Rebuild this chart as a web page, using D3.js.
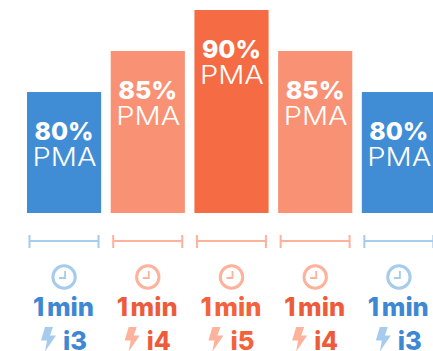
<!DOCTYPE html>
<html><head><meta charset="utf-8">
<script src="https://cdn.jsdelivr.net/npm/d3@7"></script>
<style>html,body{margin:0;padding:0;background:#fff;overflow:hidden}svg{display:block}text{font-family:Inter,"Open Sans",sans-serif}</style>
</head><body><svg id="c" width="433" height="351"></svg>
<script>
const intervals=["a","b","c","d","e"];
const pma=[80,85,90,85,80];
const durations=["1 min","1 min","1 min","1 min","1 min"];
const zones=["i3","i4","i5","i4","i3"];
const barColors={i3:"#408dd6",i4:"#f99175",i5:"#f56b43"};
const textColors={i3:"#3d87d3",i4:"#ee5b3b",i5:"#f4623c"};
const lightColors={i3:"#a5cbed",i4:"#fdb29c",i5:"#fdb29c"};
const svg=d3.select("#c");
const x=d3.scaleBand().domain(intervals).range([27,436]).paddingInner(0.114);
const y=d3.scaleLinear().domain([65.25,90]).range([213,10]);
const g=svg.selectAll("g.i").data(intervals).join("g").attr("class","i").attr("transform",d=>`translate(${x(d)},0)`);
const bw=x.bandwidth(), cx=bw/2;
g.append("rect").attr("width",bw).attr("y",(d,i)=>y(pma[i])).attr("height",(d,i)=>213-y(pma[i])).attr("fill",(d,i)=>barColors[zones[i]]);
g.append("text").attr("x",7.5).attr("y",(d,i)=>y(pma[i])+48).attr("fill","#fff").attr("font-weight",800).attr("font-size",25).attr("textLength",59).attr("lengthAdjust","spacingAndGlyphs").text((d,i)=>pma[i]+"%");
g.append("text").attr("x",5.5).attr("y",(d,i)=>y(pma[i])+74).attr("fill","#fff").attr("font-weight",300).attr("font-size",25).attr("textLength",64).attr("lengthAdjust","spacingAndGlyphs").text("PMA");
const axis=g.append("g").attr("stroke",(d,i)=>lightColors[zones[i]]).attr("stroke-width",2).attr("fill","none");
axis.append("path").attr("d",`M2.5,241H71.5`);
axis.append("path").attr("d",`M2.5,235V248M71.5,235V248`);
const clock=g.append("g").attr("transform",`translate(${cx},277)`).attr("fill","none").attr("stroke",(d,i)=>lightColors[zones[i]]);
clock.append("circle").attr("r",11.2).attr("stroke-width",3);
clock.append("path").attr("d","M1,-6V1H-5").attr("stroke-width",1.8);
g.append("text").attr("x",6).attr("y",316).attr("fill",(d,i)=>textColors[zones[i]]).attr("font-weight",800).attr("font-size",26).attr("word-spacing",-3).attr("textLength",61).attr("lengthAdjust","spacingAndGlyphs").text((d,i)=>durations[i]);
g.append("path").attr("transform",`translate(14,327)`).attr("fill",(d,i)=>lightColors[zones[i]]).attr("d","M4,0H12L9,8.5H15L4,24.5L6,13.5H0Z");
g.append("text").attr("x",36).attr("y",350).attr("fill",(d,i)=>textColors[zones[i]]).attr("font-weight",800).attr("font-size",26).attr("textLength",24).attr("lengthAdjust","spacingAndGlyphs").text((d,i)=>zones[i]);
</script></body></html>
